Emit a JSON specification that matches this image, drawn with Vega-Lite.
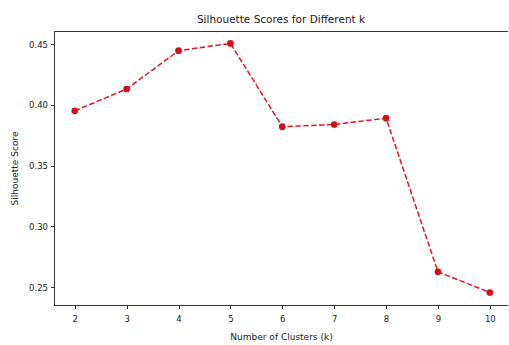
{
  "$schema": "https://vega.github.io/schema/vega-lite/v6.json",
  "autosize": {"type": "none"},
  "padding": {"left": 54, "top": 31, "right": 0, "bottom": 40},
  "width": 454,
  "height": 274,
  "background": "white",
  "title": {
    "text": "Silhouette Scores for Different k",
    "font": "DejaVu Sans",
    "fontSize": 10.5,
    "fontWeight": "normal",
    "color": "#222",
    "offset": 6
  },
  "config": {
    "view": {"stroke": "#333", "strokeWidth": 1},
    "axis": {
      "grid": false,
      "domainColor": "#333",
      "tickColor": "#333",
      "tickSize": 3.5,
      "labelFont": "DejaVu Sans",
      "labelFontSize": 8.5,
      "labelColor": "#222",
      "titleFont": "DejaVu Sans",
      "titleFontSize": 9,
      "titleFontWeight": "normal",
      "titleColor": "#222",
      "labelPadding": 3
    }
  },
  "data": {
    "values": [
      {"k": 2, "score": 0.395},
      {"k": 3, "score": 0.413},
      {"k": 4, "score": 0.4445},
      {"k": 5, "score": 0.4505},
      {"k": 6, "score": 0.382},
      {"k": 7, "score": 0.3838},
      {"k": 8, "score": 0.389},
      {"k": 9, "score": 0.2626},
      {"k": 10, "score": 0.2456}
    ]
  },
  "encoding": {
    "x": {
      "field": "k",
      "type": "quantitative",
      "scale": {"domain": [1.6, 10.35], "nice": false, "zero": false},
      "axis": {"values": [2, 3, 4, 5, 6, 7, 8, 9, 10], "title": "Number of Clusters (k)", "labelPadding": 6, "titlePadding": 9}
    },
    "y": {
      "field": "score",
      "type": "quantitative",
      "scale": {"domain": [0.2353, 0.4607], "nice": false, "zero": false},
      "axis": {"values": [0.25, 0.30, 0.35, 0.40, 0.45], "format": ".2f", "title": "Silhouette Score", "titlePadding": 9}
    }
  },
  "layer": [
    {
      "mark": {"type": "line", "color": "#e8141e", "strokeWidth": 1.5, "strokeDash": [5.5, 2.4]}
    },
    {
      "mark": {"type": "point", "filled": true, "color": "#d0101a", "opacity": 1, "size": 45}
    }
  ]
}
